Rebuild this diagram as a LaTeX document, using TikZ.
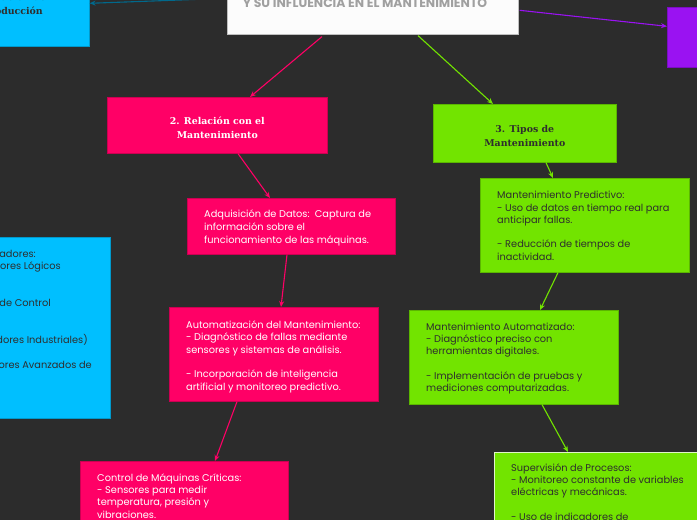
\documentclass[tikz,border=0pt]{standalone}
\usepackage{fontspec}
\usetikzlibrary{arrows.meta,calc}
\newfontfamily\bodyf{Poppins}
\newfontfamily\headf{DejaVu Serif}
\newfontfamily\titlef{Poppins}
\definecolor{bg}{HTML}{2C2C2C}
\definecolor{pinkc}{HTML}{FF0066}
\definecolor{greenc}{HTML}{72E400}
\definecolor{cyanc}{HTML}{00BFFF}
\definecolor{purplec}{HTML}{9A12F2}
\definecolor{darktxt}{HTML}{2E2E2E}
\definecolor{titletxt}{HTML}{A0A0A0}
\begin{document}
\begin{tikzpicture}[x=1pt,y=-1pt,
  box/.style={anchor=north west, inner sep=0pt, draw=#1!80!black, line width=0.6pt, fill=#1},
  bodytext/.style={anchor=west, inner sep=0pt, align=left, font=\bodyf\fontsize{9.8}{12.3}\selectfont},
  headtext/.style={inner sep=0pt, align=center, font=\headf\bfseries\fontsize{9.4}{14}\selectfont},
  conn/.style={draw=#1, line width=1.1pt, -{Stealth[length=6pt,width=5pt]}},
]
\useasboundingbox (0,0) rectangle (697,520);
\fill[bg] (0,0) rectangle (697,520);
\begin{scope}
\clip (0,0) rectangle (697,520);

% top-left cyan box
\node[box=cyanc, minimum width=230, minimum height=60] (cyantop) at (-141,-14) {};
\node[anchor=base east, inner sep=0pt, text=darktxt, font=\headf\bfseries\fontsize{9.4}{14}\selectfont] (cyantopT1) at (46,0.5) {Planificación de};
\node[anchor=base east, inner sep=0pt, text=darktxt, font=\headf\bfseries\fontsize{9.4}{14}\selectfont] (cyantopT2) at (43,14.5) {la Producción};

% title box
\node[box=white, draw=black!25, minimum width=291, minimum height=60, fill={rgb,255:red,252;green,252;blue,252}] (title) at (227,-26) {};
\node[anchor=base, inner sep=0pt, text=titletxt, font=\titlef\bfseries\fontsize{12.4}{14}\selectfont] (titleT) at (365,7.3) {Y SU INFLUENCIA EN EL MANTENIMIENTO};

% purple box
\node[box=purplec, minimum width=60, minimum height=60] (purp) at (667,7) {};

% left cyan box
\node[box=cyanc, minimum width=220, minimum height=181] (cyanleft) at (-110,237) {};
\begin{scope}[every node/.style={anchor=base east, inner sep=0pt, text=darktxt, font=\bodyf\fontsize{9.8}{12.3}\selectfont}]
\node (cl1) at (36,257) {Controladores:};
\node (cl2) at (61,269.3) {- Controladores Lógicos};
\node (cl3) at (51,306.2) {- Sistemas de Control};
\node (cl4) at (88,343.1) {(Controladores Industriales)};
\node (cl5) at (92,368) {- Controladores Avanzados de};
\end{scope}

% level 2 nodes
\node[box=pinkc, minimum width=220, minimum height=56] (rel) at (107,97) {};
\node[headtext, text=white] (relT) at ([yshift=-3pt]rel.center) {2. Relación con el\\Mantenimiento};

\node[box=greenc, minimum width=183, minimum height=58] (tipos) at (433,104) {};
\node[headtext, text=darktxt] (tiposT) at ([yshift=-3pt]tipos.center) {3. Tipos de\\Mantenimiento};

% pink column
\node[box=pinkc, minimum width=208, minimum height=56] (adq) at (187,198) {};
\node[bodytext, text=white, font=\bodyf\fontsize{9.8}{12.8}\selectfont] (adqT) at ([xshift=17pt,yshift=-1.5pt]adq.west) {Adquisición de Datos:\ \ Captura de\\información sobre el\\funcionamiento de las máquinas.};

\node[box=pinkc, minimum width=209, minimum height=94] (auto) at (169,307) {};
\node[bodytext, text=white] (autoT) at ([xshift=17pt,yshift=-2.5pt]auto.west) {Automatización del Mantenimiento:\\- Diagnóstico de fallas mediante\\sensores y sistemas de análisis.\\[12.3pt]- Incorporación de inteligencia\\artificial y monitoreo predictivo.};

\node[box=pinkc, minimum width=208, minimum height=80] (ctrl) at (80,461) {};
\node[anchor=base west, inner sep=0pt, align=left, text=white, font=\bodyf\fontsize{9.8}{12.3}\selectfont] (ctrlT) at ([xshift=17pt,yshift=-57pt]ctrl.north west) {Control de Máquinas Críticas:\\- Sensores para medir\\temperatura, presión y\\vibraciones.};

% green column
\node[box=greenc, minimum width=209, minimum height=94] (pred) at (480,178) {};
\node[bodytext, text=darktxt] (predT) at ([xshift=17pt,yshift=-0.5pt]pred.west) {Mantenimiento Predictivo:\\- Uso de datos en tiempo real para\\anticipar fallas.\\[12.3pt]- Reducción de tiempos de\\inactividad.};

\node[box=greenc, minimum width=209, minimum height=94] (mauto) at (409,310) {};
\node[bodytext, text=darktxt] (mautoT) at ([xshift=17pt,yshift=-1pt]mauto.west) {Mantenimiento Automatizado:\\- Diagnóstico preciso con\\herramientas digitales.\\[12.3pt]- Implementación de pruebas y\\mediciones computarizadas.};

\node[box=greenc, draw={rgb,255:red,225;green,245;blue,200}, line width=1.2pt, minimum width=220, minimum height=90] (sup) at (494,452) {};
\node[anchor=base west, inner sep=0pt, align=left, text=darktxt, font=\bodyf\fontsize{9.8}{12.3}\selectfont] (supT) at ([xshift=17pt,yshift=-68.2pt]sup.north west) {Supervisión de Procesos:\\- Monitoreo constante de variables\\eléctricas y mecánicas.\\[12.3pt]- Uso de indicadores de};

% connectors
\draw[conn={cyanc!55!black}] ([yshift=6pt]title.west) -- ([yshift=13pt]cyantop.east);
\draw[conn=purplec] ([xshift=1pt,yshift=-6pt]title.east) -- ([yshift=11pt]purp.west);
\draw[conn=pinkc] ([xshift=95pt,yshift=-2pt]title.south west) -- ([xshift=143pt]rel.north west);
\draw[conn=greenc] ([xshift=191pt,yshift=-1pt]title.south west) -- ([xshift=60pt]tipos.north west);
\draw[conn=pinkc] ([xshift=131pt]rel.south west) -- ([xshift=83pt]adq.north west);
\draw[conn=pinkc] ([xshift=100pt]adq.south west) -- ([xshift=112pt]auto.north west);
\draw[conn=pinkc] ([xshift=68pt]auto.south west) -- ([xshift=135pt]ctrl.north west);
\draw[conn=greenc] ([xshift=113pt]tipos.south west) -- ([xshift=73pt]pred.north west);
\draw[conn=greenc] ([xshift=78pt]pred.south west) -- ([xshift=131pt]mauto.north west);
\draw[conn=greenc] ([xshift=133pt]mauto.south west) -- ([xshift=74pt]sup.north west);
\end{scope}
\end{tikzpicture}
\end{document}
